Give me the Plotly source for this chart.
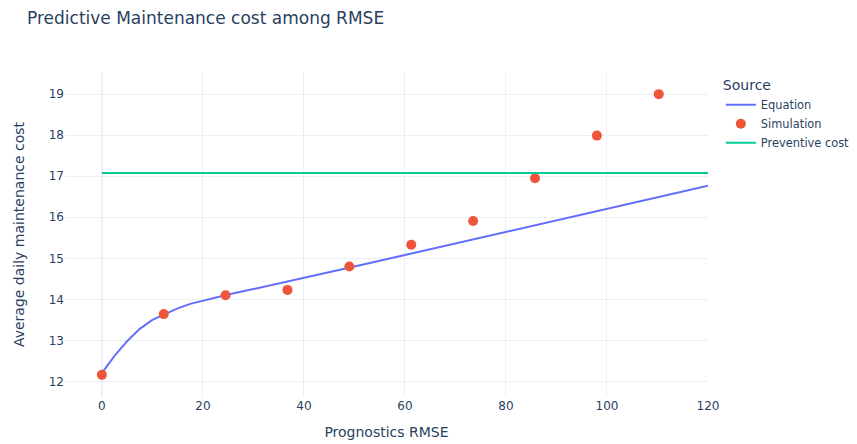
import plotly.graph_objects as go

# Equation curve
eq_rmse = [0, 2.5, 5, 7.5, 10, 12.5, 15, 17.5, 20, 25, 30, 40, 50, 60, 70, 80, 90, 100, 110, 120]
eq_cost = [12.2, 12.62, 12.98, 13.28, 13.5, 13.64, 13.78, 13.89, 13.97, 14.12, 14.25, 14.52, 14.8,
           15.08, 15.36, 15.65, 15.92, 16.2, 16.49, 16.77]

# Simulation points
sim_rmse = [0, 12.25, 24.5, 36.75, 49, 61.25, 73.5, 85.75, 98, 110.25]
sim_cost = [12.16, 13.64, 14.1, 14.23, 14.8, 15.33, 15.91, 16.95, 17.99, 19.0]

# Preventive cost
prev_rmse = [0, 120]
prev_cost = [17.08, 17.08]

font_family = "Verdana, DejaVu Sans, sans-serif"

fig = go.Figure()

fig.add_trace(go.Scatter(x=eq_rmse, y=eq_cost, mode='lines', name='Equation',
                         line=dict(color='#636efa', width=2)))
fig.add_trace(go.Scatter(x=sim_rmse, y=sim_cost, mode='markers', name='Simulation',
                         marker=dict(color='#EF553B', size=10)))
fig.add_trace(go.Scatter(x=prev_rmse, y=prev_cost, mode='lines', name='Preventive cost',
                         line=dict(color='#00cc96', width=2)))

# the page has an 8px body margin, so margins below are shifted to compensate
fig.update_layout(
    template='plotly_white',
    width=857, height=444,
    margin=dict(l=57, r=157, t=64, b=55, autoexpand=False),
    font=dict(family=font_family, color='#2a3f5f'),
    title=dict(text='Predictive Maintenance cost among RMSE', x=19 / 857, xanchor='left',
               y=1 - 10 / 444, yanchor='middle', font=dict(size=17)),
    xaxis=dict(title=dict(text='Prognostics RMSE', font=dict(size=14)), range=[-7.3, 120],
               tickfont=dict(size=12)),
    yaxis=dict(title=dict(text='Average daily maintenance cost', font=dict(size=14), standoff=20),
               range=[11.62, 19.54], tickfont=dict(size=12)),
    legend=dict(title=dict(text='Source', font=dict(size=14)), font=dict(size=11.4)),
)

fig.write_html("out.html")
